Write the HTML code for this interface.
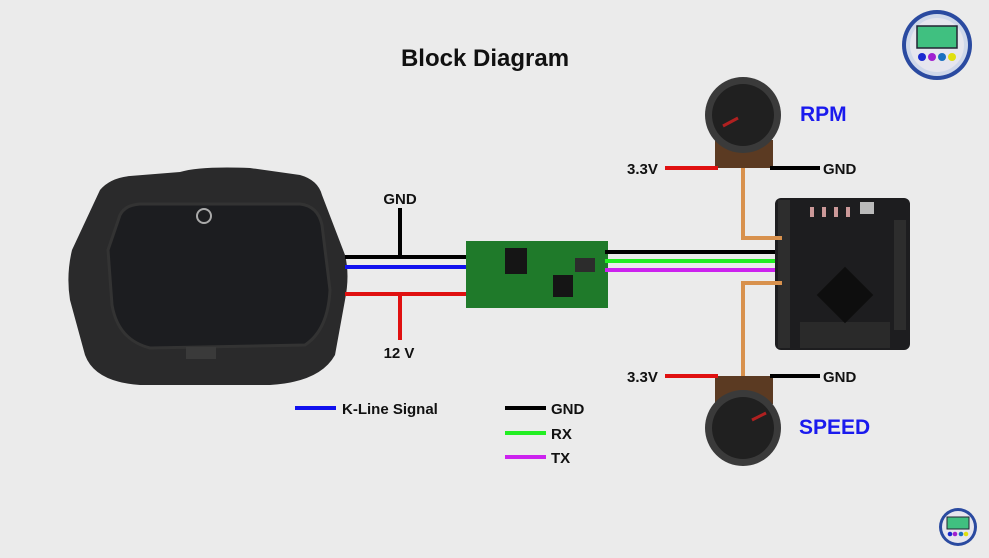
<!DOCTYPE html>
<html><head><meta charset="utf-8"><style>
html,body{margin:0;padding:0;background:#ebebeb;}
svg{display:block}
text{font-family:"Liberation Sans",sans-serif;font-weight:bold;}
</style></head><body>
<svg width="989" height="558" viewBox="0 0 989 558" xmlns="http://www.w3.org/2000/svg">
<rect width="989" height="558" fill="#ebebeb"/>
<text x="485" y="66" font-size="24" text-anchor="middle" fill="#111">Block Diagram</text>

<!-- dashboard -->
<path d="M100,190 Q110,178 130,176 L180,172 Q200,166 250,168 L300,175 Q318,180 322,195 L345,255 Q350,275 345,300 L335,355 Q320,382 270,385 L140,385 Q95,382 85,355 L70,300 Q66,275 72,250 Z" fill="#2a2a2b"/>
<path d="M120,215 Q125,205 140,204 L300,204 Q318,206 322,225 L330,290 Q328,330 305,345 L150,348 Q118,340 112,305 L108,250 Z" fill="#1c1d20" stroke="#333" stroke-width="3"/>
<circle cx="204" cy="216" r="7" fill="none" stroke="#aaa" stroke-width="2"/>
<rect x="186" y="347" width="30" height="12" fill="#3a3a3a"/>

<!-- wires from dashboard -->
<line x1="345" y1="257" x2="470" y2="257" stroke="#000" stroke-width="4"/>
<line x1="345" y1="267" x2="470" y2="267" stroke="#1010ee" stroke-width="4"/>
<line x1="345" y1="294" x2="470" y2="294" stroke="#e01010" stroke-width="4"/>
<line x1="400" y1="208" x2="400" y2="257" stroke="#000" stroke-width="4"/>
<line x1="400" y1="294" x2="400" y2="340" stroke="#e01010" stroke-width="4"/>
<text x="400" y="204" font-size="15" text-anchor="middle" fill="#111">GND</text>
<text x="399" y="358" font-size="15" text-anchor="middle" fill="#111">12 V</text>

<!-- module -->
<rect x="466" y="241" width="142" height="67" fill="#1f7a2a"/>
<rect x="505" y="248" width="22" height="26" fill="#151515"/>
<rect x="553" y="275" width="20" height="22" fill="#151515"/>
<rect x="575" y="258" width="20" height="14" fill="#2c2c2c"/>

<!-- output wires -->
<line x1="605" y1="252" x2="782" y2="252" stroke="#000" stroke-width="4"/>
<line x1="605" y1="261" x2="782" y2="261" stroke="#22ee22" stroke-width="4"/>
<line x1="605" y1="270" x2="782" y2="270" stroke="#cc22ee" stroke-width="4"/>

<!-- MCU board -->
<rect x="775" y="198" width="135" height="152" rx="6" fill="#1d1d1f"/>
<rect x="778" y="200" width="12" height="148" fill="#2d2d2d"/>
<rect x="894" y="220" width="12" height="110" fill="#2d2d2d"/>
<rect x="800" y="322" width="90" height="26" fill="#2a2a2a"/>
<rect x="825" y="275" width="40" height="40" fill="#0e0e0e" transform="rotate(45 845 295)"/>
<rect x="810" y="207" width="4" height="10" fill="#c99"/>
<rect x="822" y="207" width="4" height="10" fill="#c99"/>
<rect x="834" y="207" width="4" height="10" fill="#c99"/>
<rect x="846" y="207" width="4" height="10" fill="#c99"/>
<rect x="860" y="202" width="14" height="12" fill="#bbb"/>

<!-- orange wires -->
<polyline points="743,168 743,238 782,238" fill="none" stroke="#d8914d" stroke-width="4"/>
<polyline points="782,283 743,283 743,378" fill="none" stroke="#d8914d" stroke-width="4"/>

<!-- top pot -->
<rect x="715" y="140" width="58" height="28" fill="#5b3a22"/>
<circle cx="743" cy="115" r="38" fill="#3a3a3a"/>
<circle cx="743" cy="115" r="31" fill="#202020"/>
<line x1="723" y1="126" x2="738" y2="118" stroke="#b02020" stroke-width="3"/>
<line x1="665" y1="168" x2="718" y2="168" stroke="#e01010" stroke-width="4"/>
<line x1="770" y1="168" x2="820" y2="168" stroke="#000" stroke-width="4"/>
<text x="627" y="174" font-size="15" fill="#111">3.3V</text>
<text x="823" y="174" font-size="15" fill="#111">GND</text>
<text x="800" y="121" font-size="21" fill="#1a1aee">RPM</text>

<!-- bottom pot -->
<rect x="715" y="376" width="58" height="28" fill="#5b3a22"/>
<circle cx="743" cy="428" r="38" fill="#3a3a3a"/>
<circle cx="743" cy="428" r="31" fill="#202020"/>
<line x1="752" y1="420" x2="766" y2="413" stroke="#b02020" stroke-width="3"/>
<line x1="665" y1="376" x2="718" y2="376" stroke="#e01010" stroke-width="4"/>
<line x1="770" y1="376" x2="820" y2="376" stroke="#000" stroke-width="4"/>
<text x="627" y="382" font-size="15" fill="#111">3.3V</text>
<text x="823" y="382" font-size="15" fill="#111">GND</text>
<text x="799" y="434" font-size="21" fill="#1a1aee">SPEED</text>

<!-- legend -->
<line x1="295" y1="408" x2="336" y2="408" stroke="#1010ee" stroke-width="4"/>
<text x="342" y="414" font-size="15" fill="#111">K-Line Signal</text>
<line x1="505" y1="408" x2="546" y2="408" stroke="#000" stroke-width="4"/>
<text x="551" y="414" font-size="15" fill="#111">GND</text>
<line x1="505" y1="433" x2="546" y2="433" stroke="#22ee22" stroke-width="4"/>
<text x="551" y="439" font-size="15" fill="#111">RX</text>
<line x1="505" y1="457" x2="546" y2="457" stroke="#cc22ee" stroke-width="4"/>
<text x="551" y="463" font-size="15" fill="#111">TX</text>

<!-- logos -->
<g transform="translate(937,45)">
<circle r="35" fill="#2a4aa0"/><circle r="31" fill="#cfd8ea"/><circle r="27" fill="#e6e6ee"/>
<rect x="-20" y="-19" width="40" height="22" fill="#40c080" stroke="#223" stroke-width="1.5"/>
<circle cx="-15" cy="12" r="4" fill="#1a2ad0"/><circle cx="-5" cy="12" r="4" fill="#a020d0"/>
<circle cx="5" cy="12" r="4" fill="#1a70c0"/><circle cx="15" cy="12" r="4" fill="#e0e010"/>
</g>
<g transform="translate(958,527)">
<circle r="19" fill="#2a4aa0"/><circle r="16" fill="#e6e6ee"/>
<rect x="-11" y="-10" width="22" height="12" fill="#40c080" stroke="#223"/>
<circle cx="-8" cy="7" r="2.3" fill="#1a2ad0"/><circle cx="-3" cy="7" r="2.3" fill="#a020d0"/>
<circle cx="3" cy="7" r="2.3" fill="#1a70c0"/><circle cx="8" cy="7" r="2.3" fill="#e0e010"/>
</g>
</svg>
</body></html>
